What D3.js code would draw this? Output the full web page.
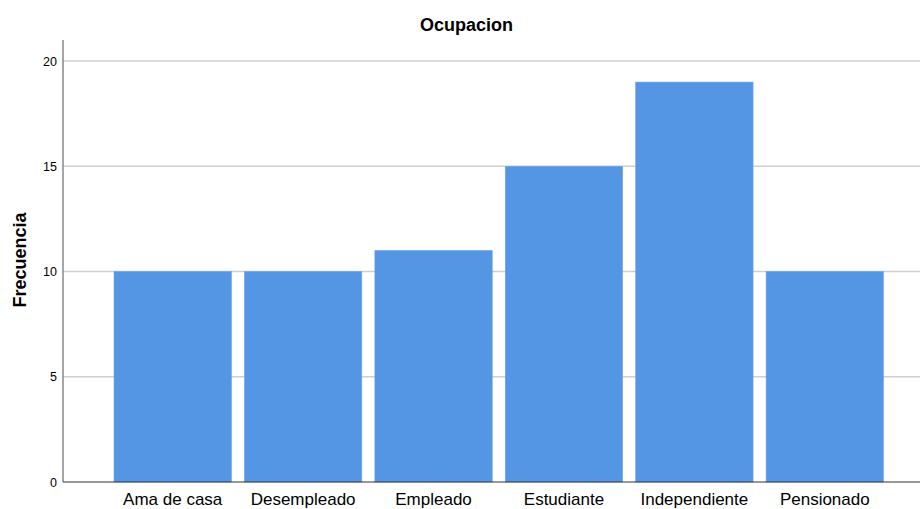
<!DOCTYPE html>
<html><head><meta charset="utf-8">
<script src="https://cdn.jsdelivr.net/npm/d3@7"></script>
<style>body{margin:0;background:#fff}svg{display:block;font-family:"Liberation Sans",Arial,sans-serif}</style>
</head><body><svg id="c" width="920" height="509"></svg>
<script>
const categories = ["Ama de casa","Desempleado","Empleado","Estudiante","Independiente","Pensionado"];
const values = [10,10,11,15,19,10];
const yTicks = [0,5,10,15,20];
const title = "Ocupacion";
const yLabel = "Frecuencia";

const svg = d3.select("#c");
const x = d3.scaleBand().domain(categories).range([107.5,890]).paddingInner(0.1).paddingOuter(0.05);
const y = d3.scaleLinear().domain([0,21]).range([482,40]);

// gridlines
svg.append("g").selectAll("line").data(yTicks.filter(d=>d>0)).join("line")
  .attr("x1",63).attr("x2",920).attr("y1",d=>y(d)).attr("y2",d=>y(d))
  .attr("stroke","#cfcfcf").attr("stroke-width",1.5);

// bars
svg.append("g").selectAll("rect").data(values).join("rect")
  .attr("x",(d,i)=>x(categories[i])).attr("width",x.bandwidth())
  .attr("y",d=>y(d)).attr("height",d=>y(0)-y(d))
  .attr("fill","#5596e4").attr("stroke","#6aa3ea").attr("stroke-width",0.6);

// y axis
const ya = svg.append("g").attr("transform","translate(63,0)")
  .call(d3.axisLeft(y).tickValues(yTicks).tickSize(0).tickPadding(6));
ya.select(".domain").attr("stroke","#888").attr("stroke-width",1.5).attr("d","M0,40V482");
ya.selectAll("text").attr("font-size",12.5).attr("fill","#000").attr("font-family","Liberation Sans, Arial, sans-serif");

// x axis
const xa = svg.append("g").attr("transform","translate(0,482)")
  .call(d3.axisBottom(x).tickSize(0).tickPadding(11));
xa.select(".domain").attr("stroke","#333").attr("stroke-width",1.2).attr("d","M63,0H920");
xa.selectAll("text").attr("font-size",17).attr("fill","#000").attr("font-family","Liberation Sans, Arial, sans-serif");

svg.append("text").attr("x",466.5).attr("y",31).attr("text-anchor","middle")
  .attr("font-size",18).attr("font-weight","bold").text(title);
svg.append("text").attr("transform","translate(26,260) rotate(-90)").attr("text-anchor","middle")
  .attr("font-size",18).attr("font-weight","bold").text(yLabel);
</script></body></html>
